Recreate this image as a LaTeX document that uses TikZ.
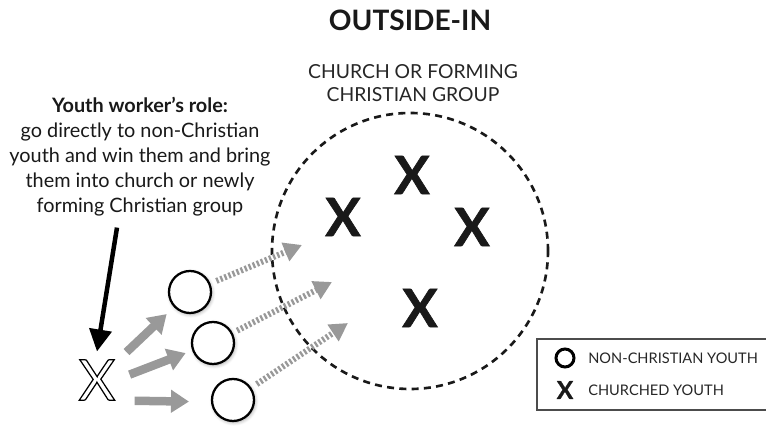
\documentclass[tikz,border=0pt]{standalone}
\usepackage{fontspec}
\setmainfont{Lato}
\usetikzlibrary{arrows.meta,shadows.blur}
\newcommand{\outlinedX}{{\color{white}\special{pdf:literal q 2 Tr 0.7 w 0 G}X\special{pdf:literal Q}}}

\begin{document}
\begin{tikzpicture}[
  youth/.style={circle, draw=black, line width=0.045cm, fill=white, minimum size=0.84cm, inner sep=0pt,
    blur shadow={shadow xshift=0.6pt, shadow yshift=-0.8pt, shadow opacity=35, shadow blur steps=6}},
  churched/.style={text=black!90, font=\fontsize{30}{30}\selectfont\bfseries\addfontfeature{FakeBold=1.2}, inner sep=0pt},
  fatarrow/.style={gray!80, line width=0.17cm, -{Triangle[width=0.44cm,length=0.36cm]}},
  dotarrow/.style={gray!80, line width=0.12cm, dash pattern=on 1.3pt off 1.2pt, -{Triangle[width=0.38cm,length=0.36cm]}},
  legendtext/.style={anchor=west, font=\fontsize{8.3}{8.3}\selectfont, text=black!85, inner sep=0pt},
]
\useasboundingbox (0,0) rectangle (15.32,8.52);

\node[font=\fontsize{16}{16}\selectfont\bfseries, text=black!90] (title) at (8.2,8.12) {OUTSIDE-IN};
\node[align=center, font=\fontsize{11}{13.5}\selectfont, text=black!85] (group) at (8.26,6.86) {CHURCH OR FORMING\\CHRISTIAN GROUP};
\node[align=center, font=\fontsize{11.3}{14.2}\selectfont, text=black!90] (role) at (2.8,5.38)
  {\textbf{Youth worker’s role:}\\go directly to non-Christian\\youth and win them and bring\\them into church or newly\\forming Christian group};

\draw[black!90, line width=1.5pt, dash pattern=on 4pt off 3pt] (8.2,3.5) circle (2.76);

\node[churched] (x1) at (6.86,4.18) {X};
\node[churched] (x2) at (8.24,5.02) {X};
\node[churched] (x3) at (9.44,3.98) {X};
\node[churched] (x4) at (8.4,2.36) {X};

\node[inner sep=0pt, font=\fontsize{32}{32}\selectfont] (leader) at (1.94,0.92) {\outlinedX};

\node[youth] (c1) at (3.8,2.68) {};
\node[youth] (c2) at (4.26,1.66) {};
\node[youth] (c3) at (4.66,0.52) {};

\draw[black, line width=0.09cm, -{Triangle[width=0.44cm,length=0.44cm]}] ([xshift=-0.46cm,yshift=-0.1cm]role.south) -- ([yshift=0.16cm]leader.north);

\draw[fatarrow, shorten <=0.3cm, shorten >=0.2cm] (leader) -- (c1);
\draw[fatarrow, shorten <=0.3cm, shorten >=0.14cm] (leader.east) -- (c2.200);
\draw[fatarrow, shorten <=0.38cm, shorten >=0.44cm] (leader.south east) -- (c3.185);

\coordinate (t1) at (6.04,3.62);
\coordinate (t2) at (6.64,2.88);
\coordinate (t3) at (6.96,2.06);
\draw[dotarrow, shorten <=0.13cm] (c1) -- (t1);
\draw[dotarrow, shorten <=0.1cm] (c2) -- (t2);
\draw[dotarrow, shorten <=0.13cm] (c3) -- (t3);

\draw[black!70, line width=0.03cm] (15.4,1.74) -- (10.74,1.74) -- (10.74,0.32) -- (15.4,0.32);
\node[circle, draw=black, line width=0.06cm, minimum size=0.36cm, inner sep=0pt] (legcircle) at (11.3,1.36) {};
\node[text=black!90, font=\fontsize{14}{14}\selectfont\bfseries\addfontfeature{FakeBold=1}, inner sep=0pt] (legx) at (11.3,0.72) {X};
\node[legendtext] (legnon) at (11.76,1.36) {NON-CHRISTIAN YOUTH};
\node[legendtext] (legchurched) at (11.76,0.72) {CHURCHED YOUTH};
\end{tikzpicture}
\end{document}
